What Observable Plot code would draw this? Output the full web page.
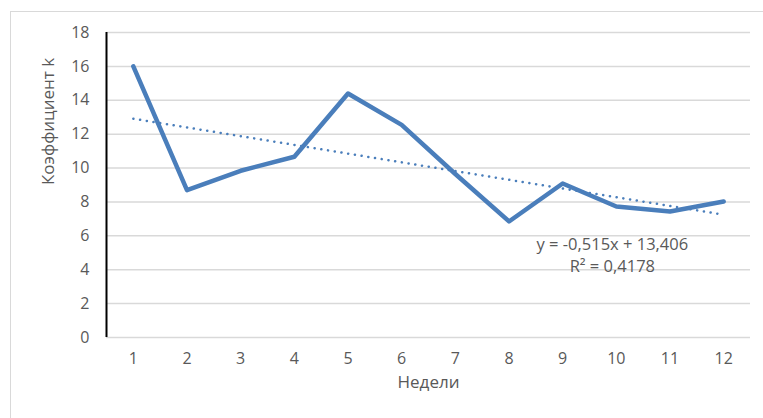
<!DOCTYPE html>
<html>
<head>
<meta charset="utf-8">
<script src="https://cdn.jsdelivr.net/npm/d3@7"></script>
<script src="https://cdn.jsdelivr.net/npm/@observablehq/plot@0.6"></script>
<style>
  html, body { margin: 0; padding: 0; background: #fff; overflow: hidden; }
  #wrap { position: relative; width: 763px; height: 418px; overflow: hidden; }
  #border { position: absolute; left: 10px; top: 11px; width: 800px; height: 500px;
            border: 1.5px solid #d9d9d9; pointer-events: none; }
</style>
</head>
<body>
<div id="wrap"><div id="border"></div></div>
<script>
const weeks = [1, 2, 3, 4, 5, 6, 7, 8, 9, 10, 11, 12];
const kValues = [16.0, 8.7, 9.84, 10.67, 14.4, 12.55, 9.65, 6.85, 9.09, 7.73, 7.44, 8.03];
const yTicks = [0, 2, 4, 6, 8, 10, 12, 14, 16, 18];
const trendText = "y = -0,515x + 13,406\nR² = 0,4178";
const trendLabelWeek = 10;
const trendLabelK = 5.5;
const xTitle = "Недели";
const yTitle = "Коэффициент k";

const data = weeks.map((w, i) => ({week: w, k: kValues[i]}));
const textColor = "#595959";
const font = "'Open Sans', sans-serif";

const chart = Plot.plot({
  width: 763,
  height: 418,
  marginLeft: 106,
  marginRight: 13,
  marginTop: 32,
  marginBottom: 81,
  style: {fontFamily: font, background: "transparent"},
  x: {domain: [0.5, 12.5], axis: null},
  y: {domain: [0, 18], axis: null},
  marks: [
    Plot.gridY(yTicks, {stroke: "#d9d9d9", strokeOpacity: 1, strokeWidth: 1.5}),
    Plot.ruleX([0.5], {y1: 0, y2: 18, stroke: "#000", strokeWidth: 2}),
    Plot.axisY({ticks: yTicks, tickSize: 0, tickPadding: 17, label: null, fontSize: 16, color: textColor}),
    Plot.axisX({ticks: weeks, tickSize: 0, tickPadding: 15, label: null, fontSize: 16, color: textColor}),
    Plot.linearRegressionY(data, {x: "week", y: "k", ci: 0, stroke: "#4a7ebb", strokeWidth: 2.5, strokeDasharray: "0.1 6.7", strokeLinecap: "round"}),
    Plot.line(data, {x: "week", y: "k", stroke: "#4a7ebb", strokeWidth: 4.5, strokeLinejoin: "round", strokeLinecap: "round"}),
    Plot.text([trendText], {x: trendLabelWeek, y: trendLabelK, dx: -4, dy: 10, fontSize: 16.5, fill: textColor, lineHeight: 1.3}),
    Plot.text([xTitle], {frameAnchor: "bottom", dy: 50, fontSize: 17, fill: textColor}),
    Plot.text([yTitle], {frameAnchor: "left", dx: -58, rotate: -90, fontSize: 17, fill: textColor})
  ]
});
document.getElementById("wrap").insertBefore(chart, document.getElementById("border"));
</script>
</body>
</html>
